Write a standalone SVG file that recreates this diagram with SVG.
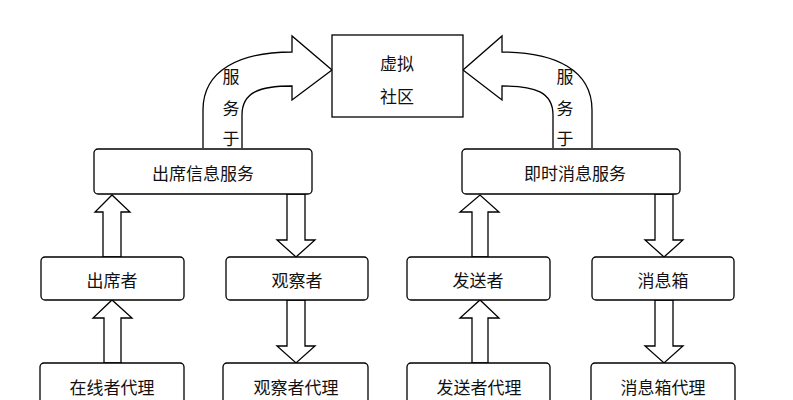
<svg xmlns="http://www.w3.org/2000/svg" width="793" height="400" viewBox="0 0 793 400">
<style>
.b{fill:#fff;stroke:#000;stroke-width:1.3}
.a{fill:#fff;stroke:#000;stroke-width:1.3;stroke-linejoin:miter}
text{font-family:"Noto Sans CJK SC","Noto Serif CJK SC",serif;font-size:17px;fill:#111;text-anchor:middle;dominant-baseline:central}
</style>
<rect width="793" height="400" fill="#fff"/>
<g id="connectors">
<path class="a" d="M203,148 L203,110 C203,70 240,52 292,52 L292,36 L332,70 L292,100 L292,86 C260,86 242,92 242,115 L242,148"/>
<path class="a" d="M592,148 L592,110 C592,70 555,52 502,52 L502,36 L463,70 L502,100 L502,86 C535,86 553,92 553,115 L553,148"/>
<path class="a" d="M103,257 L103,212 L95,212 L112,195 L130,212 L121,212 L121,257 Z"/>
<path class="a" d="M104,363 L104,318 L93,318 L112,300 L132,318 L121,318 L121,363 Z"/>
<path class="a" d="M287,194 L287,240 L277,240 L296,257 L315,240 L305,240 L305,194 Z"/>
<path class="a" d="M287,300 L287,346 L277,346 L296,363 L315,346 L305,346 L305,300 Z"/>
<path class="a" d="M472,257 L472,212 L460,212 L480,195 L499,212 L488,212 L488,257 Z"/>
<path class="a" d="M472,363 L472,318 L460,318 L480,300 L499,318 L488,318 L488,363 Z"/>
<path class="a" d="M655,194 L655,240 L645,240 L664,257 L683,240 L673,240 L673,194 Z"/>
<path class="a" d="M655,300 L655,346 L645,346 L664,363 L683,346 L673,346 L673,300 Z"/>
</g>
<g id="label1"><text x="231" y="75">服</text><text x="231" y="107">务</text><text x="231" y="137">于</text></g>
<g id="label2"><text x="565" y="75">服</text><text x="565" y="107">务</text><text x="565" y="137">于</text></g>
<g id="n-community"><rect class="b" x="332" y="35" width="131" height="82"/><text x="397" y="62">虚拟</text><text x="397" y="95">社区</text></g>
<g id="n-presence"><rect class="b" x="94" y="149" width="218" height="45" rx="4"/><text x="203" y="172">出席信息服务</text></g>
<g id="n-im"><rect class="b" x="462" y="149" width="218" height="45" rx="4"/><text x="575" y="172">即时消息服务</text></g>
<g id="n-presentity"><rect class="b" x="41" y="257" width="143" height="43" rx="4"/><text x="112" y="279">出席者</text></g>
<g id="n-watcher"><rect class="b" x="226" y="257" width="142" height="43" rx="4"/><text x="297" y="279">观察者</text></g>
<g id="n-sender"><rect class="b" x="407" y="257" width="143" height="43" rx="4"/><text x="478" y="279">发送者</text></g>
<g id="n-inbox"><rect class="b" x="592" y="257" width="142" height="43" rx="4"/><text x="663" y="279">消息箱</text></g>
<g id="n-pua"><rect class="b" x="40" y="363" width="144" height="50" rx="4"/><text x="112" y="386">在线者代理</text></g>
<g id="n-wua"><rect class="b" x="223" y="363" width="145" height="50" rx="4"/><text x="296" y="386">观察者代理</text></g>
<g id="n-sua"><rect class="b" x="407" y="363" width="143" height="50" rx="4"/><text x="479" y="386">发送者代理</text></g>
<g id="n-iua"><rect class="b" x="591" y="363" width="144" height="50" rx="4"/><text x="663" y="386">消息箱代理</text></g>
</svg>
